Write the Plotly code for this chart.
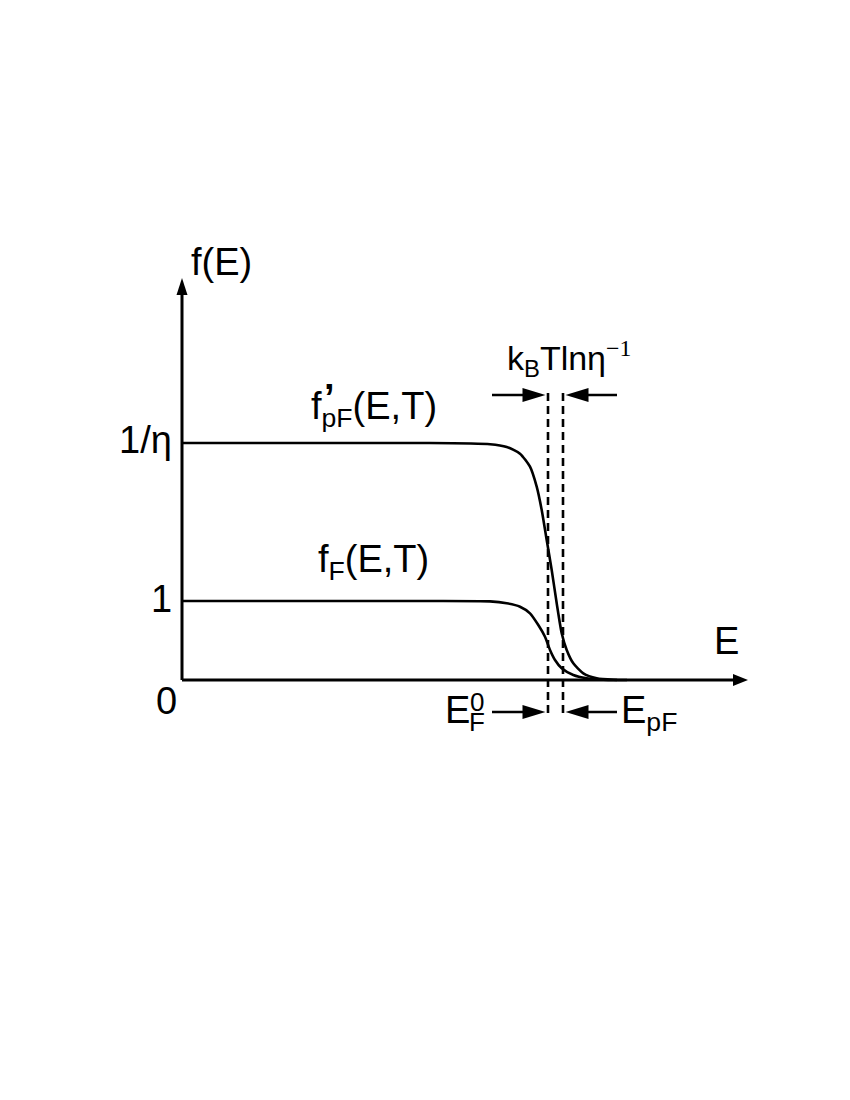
import plotly.graph_objects as go

# ---- data (E in arbitrary units from origin, f in units of f_F plateau) ----
E_upper = [0.0, 2.4, 3.08, 3.247, 3.38, 3.48, 3.547, 3.597, 3.647, 3.697, 3.747, 3.797, 3.847, 3.913, 4.013, 4.147, 4.313, 4.45]
f_upper = [3.0, 3.0, 2.985, 2.95, 2.865, 2.70, 2.447, 2.152, 1.772, 1.392, 0.971, 0.591, 0.380, 0.211, 0.085, 0.022, 0.003, 0.0]
E_lower = [0.0, 2.4, 3.08, 3.247, 3.38, 3.48, 3.563, 3.63, 3.68, 3.73, 3.797, 3.913, 4.047, 4.213, 4.35]
f_lower = [1.0, 1.0, 0.995, 0.971, 0.928, 0.844, 0.696, 0.548, 0.380, 0.253, 0.148, 0.063, 0.022, 0.003, 0.0]
E_F0 = 3.66          # E_F^0
E_pF = 3.81          # E_pF
inv_eta = 3.0        # 1/eta level
E_axis_end = 5.66
f_axis_end = 5.09

# page offset: the browser body adds an 8px margin
OFF = 8

# pixel helpers for layout placement (positions in the photographed page)
def X(px):
    return (px - 182) / 100.0

def Y(py):
    return (680 - py) / 79.0

BLACK = "black"
FONT = "Liberation Sans, Arial, sans-serif"

fig = go.Figure()
fig.add_trace(go.Scatter(x=E_upper, y=f_upper, mode="lines",
                         line=dict(color=BLACK, width=2.6, shape="spline", smoothing=0.6),
                         hoverinfo="skip", showlegend=False))
fig.add_trace(go.Scatter(x=E_lower, y=f_lower, mode="lines",
                         line=dict(color=BLACK, width=2.6, shape="spline", smoothing=0.6),
                         hoverinfo="skip", showlegend=False))

shapes = []
# axes
shapes.append(dict(type="line", x0=0, y0=0, x1=E_axis_end - 0.14, y1=0,
                   line=dict(color=BLACK, width=3)))
shapes.append(dict(type="line", x0=0, y0=0, x1=0, y1=f_axis_end - 0.18,
                   line=dict(color=BLACK, width=3)))

def head(xa, ya, direction, length=16, half=6):
    # tip at (xa, ya) in data coords, path in pixels
    if direction == "right":
        path = f"M0,0 L{-length},{half} L{-length},{-half} Z"
    elif direction == "left":
        path = f"M0,0 L{length},{half} L{length},{-half} Z"
    else:  # up
        path = f"M0,0 L{half},{-length} L{-half},{-length} Z"
    return dict(type="path", xsizemode="pixel", ysizemode="pixel",
                xanchor=xa, yanchor=ya, path=path,
                fillcolor=BLACK, line=dict(color=BLACK, width=0))

shapes.append(head(E_axis_end, 0, "right", 15, 6))
shapes.append(head(0, f_axis_end, "up", 17, 5.5))

# dashed verticals
for xv in (E_F0, E_pF):
    shapes.append(dict(type="line", x0=xv, x1=xv, y0=Y(393), y1=Y(718),
                       line=dict(color=BLACK, width=2.6, dash="8px,5px")))

# marker arrows (top and bottom)
for yy in (Y(395), Y(712)):
    shapes.append(dict(type="line", x0=X(492), x1=E_F0 - 0.12, y0=yy, y1=yy,
                       line=dict(color=BLACK, width=2.6)))
    shapes.append(head(E_F0 - 0.025, yy, "right", 23, 7))
    shapes.append(dict(type="line", x0=E_pF + 0.12, x1=X(617), y0=yy, y1=yy,
                       line=dict(color=BLACK, width=2.6)))
    shapes.append(head(E_pF + 0.025, yy, "left", 23, 7))

ann = []
def txt(text, px, py, size=38, xanchor="center", yanchor="middle", family=FONT):
    ann.append(dict(text=text, x=X(px), y=Y(py), xref="x", yref="y",
                    showarrow=False, xanchor=xanchor, yanchor=yanchor,
                    font=dict(size=size, color=BLACK, family=family)))

txt("f(E)", 189, 262, xanchor="left")
txt("1/η", 174, 440, xanchor="right")
txt("1", 174, 599, xanchor="right")
txt("0", 166, 701)
txt("E", 726, 641)
txt("f<sub>pF</sub>(E,T)", 374, 409)
txt("<b>’</b>", 329, 398, size=38)
txt("f<sub>F</sub>(E,T)", 373, 562)
txt("k<sub>B</sub>Tlnη<sup><span style='font-family:Liberation Serif, Times New Roman, serif'>−1</span></sup>",
    569, 358, size=34)
txt("E", 443, 710, xanchor="left")
txt("F", 477, 722, size=26)
txt("0", 477, 702, size=26)
txt("E<sub>pF</sub>", 619, 713, xanchor="left")

fig.update_layout(
    width=850, height=1100,
    margin=dict(l=0, r=0, t=0, b=0),
    paper_bgcolor="white", plot_bgcolor="white",
    xaxis=dict(range=[X(OFF), X(850 + OFF)], visible=False, fixedrange=True),
    yaxis=dict(range=[Y(1100 + OFF), Y(OFF)], visible=False, fixedrange=True),
    shapes=shapes, annotations=ann, showlegend=False,
)
fig.write_html("out.html")
